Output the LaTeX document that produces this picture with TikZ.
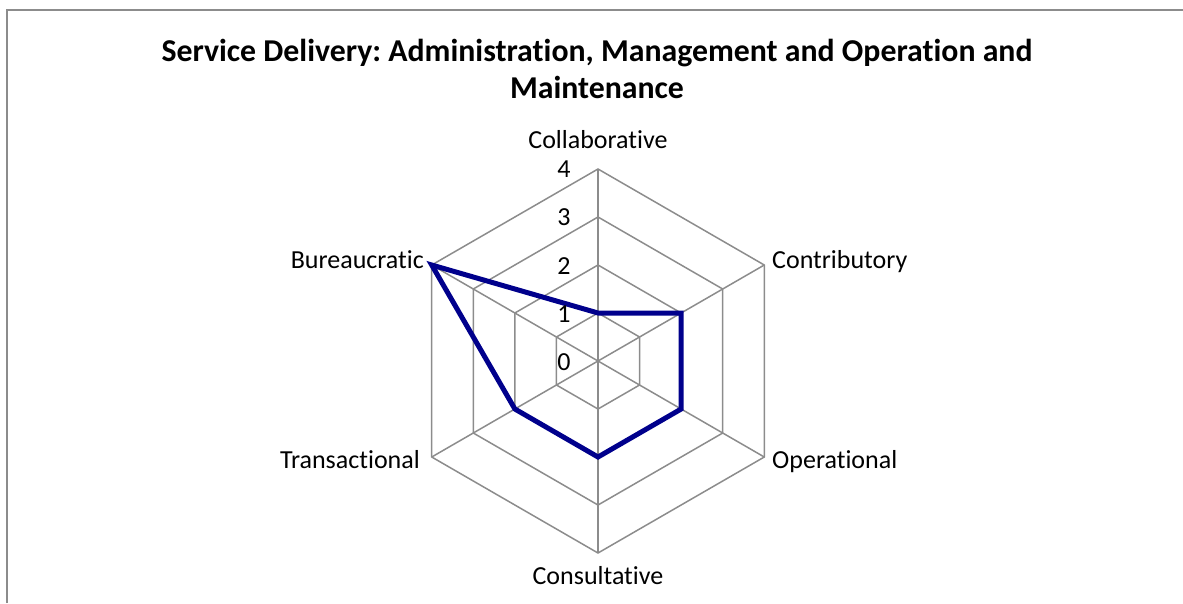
\documentclass[tikz,border=0pt]{standalone}
\usepackage{fontspec}
\setmainfont{Carlito}[Ligatures={NoCommon}]
\frenchspacing
\definecolor{gridgray}{HTML}{8C8C8C}
\definecolor{navy}{HTML}{00008C}
\begin{document}
\begin{tikzpicture}[x=1pt,y=-1pt,
  frameline/.style={draw=gridgray,line width=2pt},
  grid/.style={draw=gridgray,line width=1.5pt},
  dataline/.style={draw=navy,line width=5pt,line join=miter},
  cat/.style={font=\fontsize{26}{30}\selectfont,inner sep=0pt},
  ticklab/.style={font=\fontsize{26}{30}\selectfont,inner sep=0pt,anchor=base},
  titlefont/.style={font=\bfseries\fontsize{31.8}{36}\selectfont,inner sep=0pt,anchor=base}
]
\useasboundingbox (0,0) rectangle (1183,603);
\coordinate (fb) at (7,603);
\coordinate (fc) at (7,10);
\coordinate (fr) at (1183,10);
\draw[frameline] (fb) -- (fc) -- (fr);

\node[titlefont] (t1) at (597,61) {Service Delivery: Administration, Management and Operation and};
\node[titlefont] (t2) at (597,98) {Maintenance};

\begin{scope}[shift={(598,361)},y=1pt]
  \coordinate (O) at (0,0);
  \foreach \r in {1,2,3,4}{
    \draw[grid] (90:{48*\r}) -- (30:{48*\r}) -- (-30:{48*\r}) -- (-90:{48*\r}) -- (-150:{48*\r}) -- (150:{48*\r}) -- cycle;
  }
  \coordinate (a1) at (90:192);
  \coordinate (a2) at (30:192);
  \coordinate (a3) at (-30:192);
  \coordinate (a4) at (-90:192);
  \coordinate (a5) at (-150:192);
  \coordinate (a6) at (150:192);
  \foreach \k in {1,...,6}{\draw[grid] (O) -- (a\k);}
  \coordinate (d1) at (90:48);
  \coordinate (d2) at (30:96);
  \coordinate (d3) at (-30:96);
  \coordinate (d4) at (-90:96);
  \coordinate (d5) at (-150:96);
  \coordinate (d6) at (150:192);
  \draw[dataline] (d1) -- (d2) -- (d3) -- (d4) -- (d5) -- (d6) -- cycle;
\end{scope}

\node[ticklab] (n4) at (564,177) {4};
\node[ticklab] (n3) at (564,225) {3};
\node[ticklab] (n2) at (564,274) {2};
\node[ticklab] (n1) at (564,322) {1};
\node[ticklab] (n0) at (564,370) {0};

\node[cat,anchor=base] (lc1) at (598,148) {Collaborative};
\node[cat,anchor=base west] (lc2) at (772,268) {Contributory};
\node[cat,anchor=base west] (lc3) at (772,468) {Operational};
\node[cat,anchor=base] (lc4) at (598,584) {Consultative};
\node[cat,anchor=base east] (lc5) at (420,468) {Transactional};
\node[cat,anchor=base east] (lc6) at (424,268) {Bureaucratic};
\end{tikzpicture}
\end{document}
